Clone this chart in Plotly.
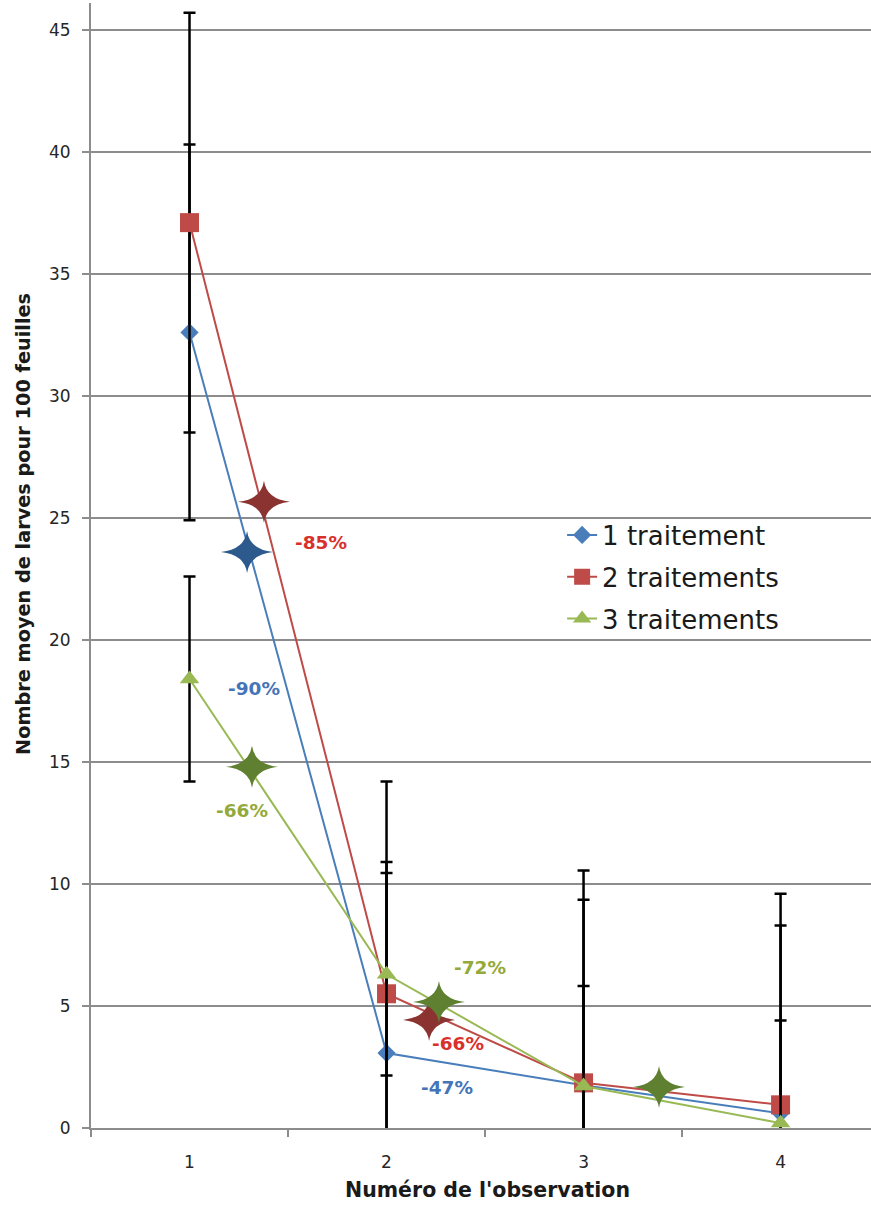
import plotly.graph_objects as go

# ---------------- data ----------------
observations = [1, 2, 3, 4]
tick_labels = ["1", "2", "3", "4"]

series_names = ["1 traitement", "2 traitements", "3 traitements"]
t1_values = [32.6, 3.07, 1.75, 0.6]
t1_errors = [7.7, 7.83, 7.6, 7.7]
t2_values = [37.1, 5.5, 1.85, 0.95]
t2_errors = [8.6, 8.7, 8.7, 8.65]
t3_values = [18.4, 6.3, 1.72, 0.2]
t3_errors = [4.2, 4.15, 4.1, 4.2]

# star markers (between observations) and their reduction labels
star_x = [1.292, 1.378, 1.317, 2.216, 2.266, 3.383]
star_y = [23.6, 25.66, 14.8, 4.43, 5.16, 1.68]
star_series = [0, 1, 2, 1, 2, 2]

label_text = ["-90%", "-85%", "-66%", "-66%", "-72%", "-47%"]
label_x = [1.327, 1.665, 1.268, 2.365, 2.472, 2.306]
label_y = [18.0, 24.0, 13.0, 3.48, 6.56, 1.68]
label_series = [0, 1, 2, 1, 2, 0]

y_ticks = [0, 5, 10, 15, 20, 25, 30, 35, 40, 45]

x_title = "Numéro de l'observation"
y_title = "Nombre moyen de larves pour 100 feuilles"

# ---------------- styles ----------------
line_colors = ["#4A7EBB", "#BE4B48", "#98B954"]
star_colors = ["#2C5A8C", "#8B3331", "#5E8030"]
text_colors = ["#4574B8", "#D8302C", "#93AA3A"]
symbols = ["diamond", "square", "triangle-up"]
sizes = [14, 19, 17]
grid_col = "#8C8C8C"
FONT = "DejaVu Sans"

W, H = 871, 1205
ML, MR, MT, MB = 91, 0, 3, 77
X_RANGE = [0.5, 4.459]
Y_RANGE = [0, 46.1]
PW, PH = W - ML - MR, H - MT - MB
px_x = PW / (X_RANGE[1] - X_RANGE[0])
px_y = PH / (Y_RANGE[1] - Y_RANGE[0])

fig = go.Figure()

all_vals = [t1_values, t2_values, t3_values]
all_errs = [t1_errors, t2_errors, t3_errors]
for i in range(3):
    fig.add_trace(go.Scatter(
        x=observations, y=all_vals[i], name=series_names[i],
        mode="lines+markers", legendgroup=f"g{i}",
        line=dict(color=line_colors[i], width=2),
        marker=dict(symbol=symbols[i], size=sizes[i], color=line_colors[i],
                    line=dict(width=0)),
        error_y=dict(type="data", array=all_errs[i], visible=True,
                     color="black", thickness=2.5, width=6),
    ))

# four-pointed stars drawn as path shapes in data coordinates
rx, ry = 26 / px_x, 21 / px_y
cx, cy = 2.6 / px_x, 2.6 / px_y
for sx, sy, s in zip(star_x, star_y, star_series):
    path = (f"M {sx - rx},{sy} Q {sx - cx},{sy + cy} {sx},{sy + ry} "
            f"Q {sx + cx},{sy + cy} {sx + rx},{sy} "
            f"Q {sx + cx},{sy - cy} {sx},{sy - ry} "
            f"Q {sx - cx},{sy - cy} {sx - rx},{sy} Z")
    fig.add_shape(type="path", path=path, xref="x", yref="y",
                  fillcolor=star_colors[s], line=dict(width=0), layer="above")

for t, lx, ly, s in zip(label_text, label_x, label_y, label_series):
    fig.add_annotation(x=lx, y=ly, text=f"<b>{t}</b>", showarrow=False,
                       font=dict(family=FONT, size=18.5, color=text_colors[s]),
                       xanchor="center", yanchor="middle")

# axis titles (placed as in the reference, which is not centred on the plot)
fig.add_annotation(xref="paper", yref="paper",
                   x=(487 - ML) / PW, y=-(1190 - MT - PH) / PH,
                   text=f"<b>{x_title}</b>", showarrow=False,
                   font=dict(family=FONT, size=20.5, color="#1A1A1A"),
                   xanchor="center", yanchor="middle")
fig.add_annotation(xref="paper", yref="paper",
                   x=(23 - ML) / PW, y=(MT + PH - 524) / PH,
                   text=f"<b>{y_title}</b>", showarrow=False, textangle=-90,
                   font=dict(family=FONT, size=19.3, color="#1A1A1A"),
                   xanchor="center", yanchor="middle")

fig.update_layout(
    width=W, height=H,
    margin=dict(l=ML, r=MR, t=MT, b=MB, autoexpand=False),
    paper_bgcolor="white", plot_bgcolor="white",
    font=dict(family=FONT, color="#262626"),
    legend=dict(x=0.604, y=0.548, xanchor="left", yanchor="top",
                bgcolor="rgba(0,0,0,0)", font=dict(size=26, color="#1A1A1A"),
                tracegroupgap=5),
    xaxis=dict(range=X_RANGE, tickmode="array", tickvals=observations,
               ticktext=tick_labels, ticks="", showgrid=False, zeroline=False,
               showline=True, linecolor=grid_col, linewidth=2,
               tickfont=dict(size=17), ticklabelstandoff=18,
               minor=dict(tickmode="array", tickvals=[0.5, 1.5, 2.5, 3.5],
                          ticks="outside", ticklen=7, tickwidth=1.5,
                          tickcolor=grid_col, showgrid=False)),
    yaxis=dict(range=Y_RANGE, tickmode="array", tickvals=y_ticks,
               showgrid=True, gridcolor=grid_col, gridwidth=1.5,
               zeroline=False, showline=True, linecolor=grid_col, linewidth=2,
               ticks="outside", ticklen=7, tickwidth=1.5, tickcolor=grid_col,
               tickfont=dict(size=17), ticklabelstandoff=8),
)

fig.write_html("out.html",
               config={"displayModeBar": False},
               post_script="document.body.style.margin='0';"
                           "document.body.style.overflow='hidden';")
